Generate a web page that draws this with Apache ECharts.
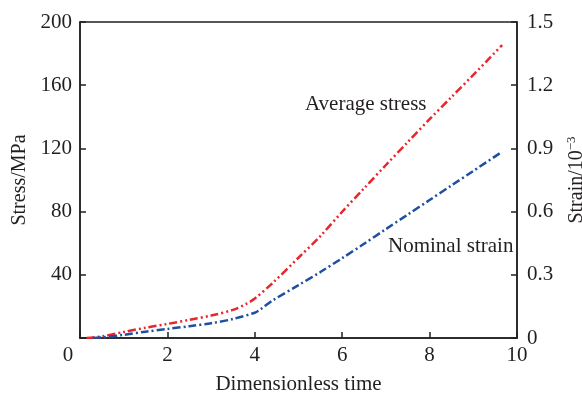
<!DOCTYPE html>
<html>
<head>
<meta charset="utf-8">
<script src="https://cdn.jsdelivr.net/npm/echarts@6/dist/echarts.min.js"></script>
<style>
  html, body { margin: 0; padding: 0; background: #fff; }
  #chart { width: 582px; height: 394px; }
</style>
</head>
<body>
<div id="chart"></div>
<script>
// Dimensionless time samples
const stressTime = [0.15, 0.5, 1.0, 1.5, 2.0, 2.5, 3.0, 3.5, 3.8, 4.0, 4.4, 5.0, 5.5, 6.0, 6.5, 7.0, 7.5, 8.0, 8.5, 9.0, 9.66];
// Average stress, MPa (left axis)
const avgStress = [0, 1.0, 3.8, 6.5, 8.9, 11.5, 14.2, 17.8, 21.5, 25, 34.6, 50.8, 64.5, 79.9, 94.7, 109.5, 124, 138.5, 152.5, 166.5, 185.4];

const strainTime = [0.3, 0.5, 1.0, 1.5, 2.0, 2.5, 3.0, 3.5, 4.0, 4.13, 4.4, 5.0, 5.5, 6.0, 6.5, 7.0, 7.5, 8.0, 8.5, 9.0, 9.66];
// Nominal strain, 10^-3 (right axis)
const nominalStrain = [0, 0.003, 0.015, 0.03, 0.043, 0.056, 0.07, 0.09, 0.12, 0.136, 0.177, 0.251, 0.313, 0.379, 0.447, 0.517, 0.586, 0.655, 0.724, 0.793, 0.884];

const xTicks = [0, 2, 4, 6, 8, 10];
const stressTicks = [0, 40, 80, 120, 160, 200];
const strainTicks = [0, 0.3, 0.6, 0.9, 1.2, 1.5];

const FONT = '"Liberation Serif", "DejaVu Serif", serif';
const INK = '#231f20';

const chart = echarts.init(document.getElementById('chart'), null, { renderer: 'canvas' });

const axisCommon = {
  axisLine: { show: true, lineStyle: { color: INK, width: 1.5 } },
  axisTick: { show: true, inside: true, length: 6, lineStyle: { color: INK, width: 1.5 } },
  splitLine: { show: false },
  axisLabel: { color: INK, fontFamily: FONT, fontSize: 21 }
};

chart.setOption({
  animation: false,
  backgroundColor: '#fff',
  grid: {
    left: 80, right: 65, top: 22, bottom: 56,
    outerBoundsMode: 'none', containLabel: false,
    show: true, borderColor: INK, borderWidth: 1.5, backgroundColor: 'transparent'
  },
  xAxis: Object.assign({}, axisCommon, {
    type: 'value',
    min: xTicks[0], max: xTicks[xTicks.length - 1], interval: 2,
    name: 'Dimensionless time',
    nameLocation: 'middle', nameGap: 36,
    nameTextStyle: { color: INK, fontFamily: FONT, fontSize: 21 },
    axisLabel: Object.assign({}, axisCommon.axisLabel, {
      margin: 7,
      formatter: v => v === 0 ? '{z|0}' : String(v),
      rich: { z: { fontFamily: FONT, fontSize: 21, color: INK, padding: [0, 24, 0, 0] } }
    })
  }),
  yAxis: [
    Object.assign({}, axisCommon, {
      type: 'value', position: 'left',
      min: stressTicks[0], max: stressTicks[stressTicks.length - 1], interval: 40,
      name: 'Stress/MPa',
      nameLocation: 'middle', nameGap: 49,
      nameTextStyle: { color: INK, fontFamily: FONT, fontSize: 20 },
      axisLabel: Object.assign({}, axisCommon.axisLabel, {
        margin: 8,
        formatter: v => v === 0 ? '' : String(v)
      })
    }),
    Object.assign({}, axisCommon, {
      type: 'value', position: 'right',
      min: strainTicks[0], max: strainTicks[strainTicks.length - 1], interval: 0.3,
      name: 'Strain/10{sup|−3}',
      nameLocation: 'middle', nameGap: 48, nameRotate: 90,
      nameTextStyle: {
        color: INK, fontFamily: FONT, fontSize: 20,
        rich: { sup: { fontFamily: FONT, fontSize: 13, color: INK, padding: [0, 0, 10, 0] } }
      },
      axisLabel: Object.assign({}, axisCommon.axisLabel, {
        margin: 10,
        formatter: v => v === 0 ? '0' : v.toFixed(1)
      })
    })
  ],
  series: [
    {
      name: 'Average stress',
      type: 'line', yAxisIndex: 0, symbol: 'none', smooth: 0.3,
      data: stressTime.map((t, i) => [t, avgStress[i]]),
      lineStyle: { color: '#e8262b', width: 2.5, type: [8, 3, 2, 3, 2, 3] },
      z: 3
    },
    {
      name: 'Nominal strain',
      type: 'line', yAxisIndex: 1, symbol: 'none', smooth: 0.3,
      data: strainTime.map((t, i) => [t, nominalStrain[i]]),
      lineStyle: { color: '#1f4fa0', width: 2.5, type: [8, 3, 2, 3] },
      z: 3
    }
  ],
  graphic: [
    { type: 'text', left: 305, top: 94,
      style: { text: 'Average stress', fontFamily: FONT, fontSize: 21, fill: INK } },
    { type: 'text', left: 388, top: 236,
      style: { text: 'Nominal strain', fontFamily: FONT, fontSize: 21, fill: INK } }
  ]
});
</script>
</body>
</html>
